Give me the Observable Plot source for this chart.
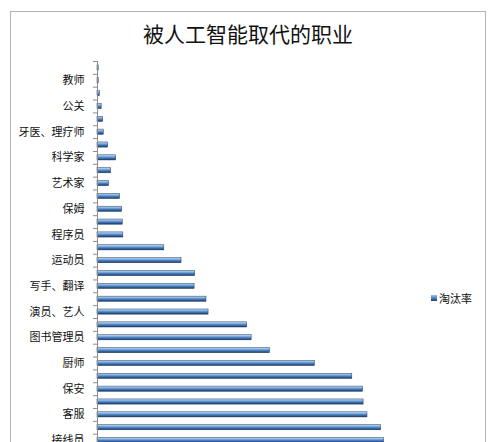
<!DOCTYPE html>
<html>
<head>
<meta charset="utf-8">
<script src="https://cdn.jsdelivr.net/npm/d3@7"></script>
<script src="https://cdn.jsdelivr.net/npm/@observablehq/plot@0.6"></script>
<style>
  html, body { margin: 0; padding: 0; background: #fff; }
  #wrap { position: relative; width: 500px; height: 442px; overflow: hidden; background: #fff;
          font-family: "Noto Sans CJK SC", "Noto Sans", sans-serif; }
  #frame { position: absolute; left: 10px; top: 11px; width: 476px; height: 520px;
           border: 1px solid #b4b4b4; box-sizing: border-box; }
  #title { position: absolute; left: 0; top: 18px; width: 496px; height: 30px; line-height: 30px;
           text-align: center; font-size: 21px; color: #111; }
  #chart { position: absolute; left: 0; top: 50px; }
  #legend { position: absolute; left: 431px; top: 290px; font-size: 11px; color: #111;
            display: flex; align-items: center; gap: 2px; }
  #legend .sw { width: 6px; height: 6px; background: linear-gradient(#9cc3ea, #3f74b5 60%, #1f3f6b); }
</style>
</head>
<body>
<div id="wrap">
  <div id="frame"></div>
  <div id="title">被人工智能取代的职业</div>
  <div id="chart"></div>
  <div id="legend"><span class="sw"></span><span>淘汰率</span></div>
</div>
<script>
// Category tick labels, top to bottom (only every other category is labelled in the picture)
const labels = [
  "", "教师", "", "公关", "", "牙医、理疗师", "", "科学家", "", "艺术家",
  "", "保姆", "", "程序员", "", "运动员", "", "写手、翻译", "", "演员、艺人",
  "", "图书管理员", "", "厨师", "", "保安", "", "客服", "", "接线员"
];
// 淘汰率 (%) per category, top to bottom
const rates = [
  0.4, 0.4, 0.8, 1.4, 1.9, 2.1, 3.6, 6.3, 4.6, 3.9,
  7.6, 8.3, 8.5, 8.7, 22.5, 28.3, 32.9, 32.7, 36.7, 37.4,
  50.4, 51.9, 58.1, 73.2, 85.8, 89.4, 89.6, 90.9, 95.5, 96.5
];
const seriesName = "淘汰率";

const data = rates.map((v, i) => ({i, v, label: labels[i]}));
const bounds = d3.range(-1, rates.length).map(i => i + 0.5);
const labelled = data.filter(d => d.label !== "").map(d => d.i);

const plot = Plot.plot({
  width: 500,
  height: 392,
  marginTop: 11,
  marginBottom: 0,
  marginLeft: 97,
  marginRight: 106,
  style: {background: "transparent", fontFamily: "'Noto Sans CJK SC', sans-serif", overflow: "hidden"},
  x: {domain: [0, 100], axis: null},
  y: {domain: [-0.5, 29.15], reverse: true, axis: null},
  marks: [
    Plot.rectX(data, {x1: 0, x2: "v", y1: d => d.i - 0.2, y2: d => d.i + 0.2,
      fill: "url(#barGrad)", stroke: "#1f3a60", strokeWidth: 0.5, title: d => `${d.label} ${seriesName}: ${d.v}`}),
    Plot.axisY({ticks: bounds, tickSize: 4, tickFormat: () => "", stroke: "#8c8c8c"}),
    Plot.axisY({ticks: labelled, tickSize: 0, tickPadding: 13, tickFormat: i => labels[i],
      fontSize: 11, fill: "#111"}),
    Plot.ruleX([0], {stroke: "#8c8c8c"})
  ]
});

const ns = "http://www.w3.org/2000/svg";
const defs = document.createElementNS(ns, "defs");
const grad = document.createElementNS(ns, "linearGradient");
grad.setAttribute("id", "barGrad");
grad.setAttribute("x1", "0"); grad.setAttribute("y1", "0");
grad.setAttribute("x2", "0"); grad.setAttribute("y2", "1");
[["0%", "#c4dcf3"], ["30%", "#86b4e2"], ["55%", "#4f83c2"], ["80%", "#2c5b96"], ["100%", "#1a365e"]]
  .forEach(([o, c]) => {
    const s = document.createElementNS(ns, "stop");
    s.setAttribute("offset", o); s.setAttribute("stop-color", c);
    grad.appendChild(s);
  });
defs.appendChild(grad);
plot.insertBefore(defs, plot.firstChild);
document.getElementById("chart").appendChild(plot);
</script>
</body>
</html>
